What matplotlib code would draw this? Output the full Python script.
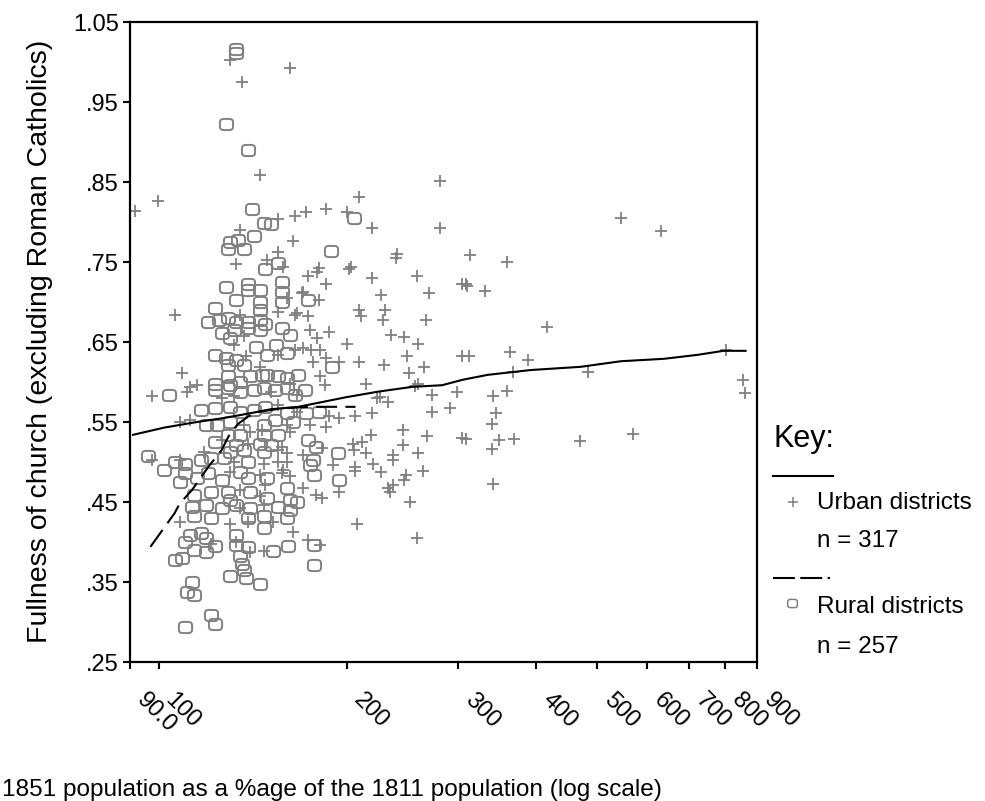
## fullness of church vs population growth 1811-1851, urban and rural districts
## (log scale on x)

import numpy as np
import matplotlib
matplotlib.use("Agg")
from matplotlib import pyplot as plt
from matplotlib.path import Path
from matplotlib.lines import Line2D
from matplotlib.ticker import NullLocator
from matplotlib.transforms import ScaledTranslation

plt.rcParams['font.family'] = ['Liberation Sans', 'DejaVu Sans']

## urban districts, 1851 pop as % of 1811 pop and fullness of church
urban_x = [130, 162, 136, 145, 99.7, 91.6, 155, 165, 172, 185,
           209, 200, 219, 281, 281, 135, 164, 155, 240, 149,
           158, 203, 180, 133, 169, 160, 155, 165, 106, 135,
           137, 132, 138, 165, 155, 145, 109, 115, 112, 162,
           97.7, 111, 126, 132, 155, 166, 108, 112, 137, 160,
           140, 162, 126, 139, 157, 118, 155, 160, 97.7, 132,
           147, 155, 160, 130, 145, 157, 162, 135, 145, 147,
           108, 152, 121, 133, 140, 147, 164, 173, 181, 239,
           179, 173, 185, 201, 219, 258, 305, 170, 180, 226,
           270, 209, 210, 230, 228, 267, 166, 173, 174, 187,
           179, 200, 235, 246, 259, 170, 175, 181, 249, 305,
           176, 185, 194, 209, 229, 265, 251, 181, 184, 214,
           259, 273, 299, 223, 273, 291, 206, 219, 187, 194,
           174, 185, 245, 268, 218, 305, 204, 211, 245, 182,
           205, 214, 236, 259, 170, 236, 220, 190, 206, 226,
           248, 264, 206, 246, 236, 232, 194, 170, 178, 182,
           252, 207, 258, 546, 632, 314, 360, 309, 310, 332,
           416, 312, 363, 388, 367, 484, 802, 855, 860, 341,
           360, 345, 340, 309, 349, 369, 340, 470, 570, 341,
           225, 232, 234, 256, 130, 139, 146, 151, 158, 166,
           148, 135, 108]
urban_y = [1.003, 0.993, 0.975, 0.859, 0.826, 0.814, 0.804, 0.808, 0.812, 0.816,
           0.831, 0.812, 0.793, 0.851, 0.793, 0.790, 0.776, 0.763, 0.760, 0.753,
           0.744, 0.744, 0.742, 0.748, 0.711, 0.705, 0.688, 0.684, 0.684, 0.684,
           0.657, 0.646, 0.632, 0.640, 0.634, 0.619, 0.611, 0.596, 0.594, 0.598,
           0.582, 0.588, 0.580, 0.582, 0.571, 0.563, 0.550, 0.552, 0.546, 0.546,
           0.538, 0.538, 0.527, 0.523, 0.519, 0.513, 0.515, 0.511, 0.503, 0.500,
           0.498, 0.500, 0.500, 0.488, 0.484, 0.486, 0.482, 0.465, 0.457, 0.446,
           0.425, 0.425, 0.398, 0.400, 0.388, 0.389, 0.413, 0.403, 0.396, 0.755,
           0.738, 0.732, 0.723, 0.741, 0.730, 0.733, 0.723, 0.713, 0.703, 0.709,
           0.711, 0.690, 0.682, 0.690, 0.677, 0.677, 0.686, 0.682, 0.665, 0.663,
           0.655, 0.648, 0.659, 0.656, 0.648, 0.642, 0.640, 0.640, 0.632, 0.632,
           0.625, 0.630, 0.625, 0.625, 0.621, 0.619, 0.611, 0.607, 0.596, 0.598,
           0.598, 0.584, 0.588, 0.580, 0.563, 0.568, 0.557, 0.561, 0.557, 0.555,
           0.546, 0.544, 0.540, 0.532, 0.534, 0.530, 0.523, 0.525, 0.521, 0.517,
           0.515, 0.511, 0.509, 0.511, 0.509, 0.503, 0.498, 0.496, 0.494, 0.487,
           0.484, 0.489, 0.489, 0.478, 0.471, 0.467, 0.463, 0.467, 0.459, 0.455,
           0.450, 0.423, 0.405, 0.805, 0.789, 0.759, 0.750, 0.723, 0.720, 0.714,
           0.669, 0.632, 0.638, 0.627, 0.613, 0.612, 0.640, 0.603, 0.586, 0.583,
           0.589, 0.561, 0.548, 0.529, 0.527, 0.529, 0.516, 0.526, 0.535, 0.472,
           0.581, 0.575, 0.463, 0.595, 0.423, 0.425, 0.540, 0.587, 0.490, 0.584,
           0.471, 0.442, 0.503]

## rural districts
rural_x = [133, 133, 128, 139, 141, 147, 151, 205, 142, 134,
           130, 129, 137, 188, 155, 148, 157, 157, 128, 139,
           139, 145, 133, 145, 157, 145, 123, 120, 125, 129,
           133, 139, 145, 148, 157, 126, 132, 139, 145, 162,
           130, 154, 143, 123, 128, 133, 149, 160, 129, 137,
           146, 149, 155, 160, 123, 129, 135, 140, 130, 104,
           123, 129, 135, 142, 147, 153, 160, 165, 117, 123,
           130, 135, 142, 148, 160, 119, 124, 130, 147, 153,
           164, 129, 135, 147, 155, 123, 133, 145, 151, 130,
           137, 147, 96.1, 102, 106, 110, 117, 121, 127, 139,
           108, 110, 115, 120, 126, 135, 139, 149, 114, 121,
           129, 130, 140, 149, 160, 162, 113, 119, 126, 133,
           140, 155, 162, 114, 121, 139, 147, 160, 147, 112,
           117, 119, 123, 114, 119, 110, 106, 109, 133, 133,
           139, 152, 161, 135, 136, 137, 130, 138, 145, 113,
           111, 114, 121, 123, 110, 177, 194, 193, 171, 172,
           180, 173, 178, 176, 174, 177, 166, 167, 189, 173,
           177]
rural_y = [1.016, 1.011, 0.922, 0.890, 0.816, 0.799, 0.798, 0.805, 0.783, 0.778,
           0.775, 0.766, 0.766, 0.764, 0.749, 0.741, 0.725, 0.713, 0.719, 0.723,
           0.715, 0.715, 0.703, 0.700, 0.700, 0.690, 0.692, 0.675, 0.678, 0.680,
           0.675, 0.675, 0.678, 0.673, 0.667, 0.661, 0.665, 0.667, 0.665, 0.659,
           0.655, 0.646, 0.644, 0.634, 0.630, 0.628, 0.634, 0.636, 0.621, 0.621,
           0.609, 0.609, 0.607, 0.605, 0.598, 0.607, 0.600, 0.607, 0.596, 0.584,
           0.590, 0.592, 0.588, 0.590, 0.592, 0.590, 0.592, 0.584, 0.565, 0.567,
           0.569, 0.563, 0.565, 0.569, 0.561, 0.546, 0.546, 0.550, 0.546, 0.552,
           0.550, 0.534, 0.534, 0.534, 0.534, 0.525, 0.521, 0.523, 0.521, 0.513,
           0.515, 0.513, 0.507, 0.490, 0.500, 0.498, 0.503, 0.505, 0.505, 0.500,
           0.475, 0.486, 0.480, 0.486, 0.478, 0.488, 0.480, 0.480, 0.459, 0.463,
           0.463, 0.453, 0.463, 0.455, 0.467, 0.453, 0.444, 0.446, 0.442, 0.446,
           0.442, 0.444, 0.440, 0.432, 0.430, 0.430, 0.432, 0.430, 0.417, 0.409,
           0.411, 0.405, 0.395, 0.390, 0.388, 0.400, 0.378, 0.380, 0.409, 0.396,
           0.394, 0.389, 0.395, 0.382, 0.373, 0.365, 0.357, 0.355, 0.348, 0.350,
           0.338, 0.334, 0.309, 0.298, 0.294, 0.371, 0.478, 0.511, 0.590, 0.561,
           0.563, 0.528, 0.519, 0.503, 0.496, 0.484, 0.450, 0.609, 0.619, 0.703,
           0.396]

## smoothed fits
urban_fit_x = [91, 102, 115, 127, 140, 151, 167, 199, 224, 254,
               283, 306, 335, 392, 471, 546, 639, 724, 796, 863]
urban_fit_y = [0.534, 0.543, 0.550, 0.555, 0.561, 0.566, 0.569, 0.581, 0.588, 0.594,
               0.596, 0.603, 0.609, 0.615, 0.619, 0.626, 0.629, 0.634, 0.639, 0.639]
rural_fit_x = [97, 106, 108, 113, 120, 126, 130, 134, 139, 145, 157, 173, 206]
rural_fit_y = [0.394, 0.436, 0.448, 0.465, 0.494, 0.515, 0.536, 0.548, 0.557,
               0.563, 0.567, 0.569, 0.569]

xticks = [90, 100, 200, 300, 400, 500, 600, 700, 800, 900]
xticklabels = ["90.0", "100", "200", "300", "400", "500", "600", "700", "800", "900"]
yticks = [0.25, 0.35, 0.45, 0.55, 0.65, 0.75, 0.85, 0.95, 1.05]
yticklabels = [".25", ".35", ".45", ".55", ".65", ".75", ".85", ".95", "1.05"]

grey = '#808080'

## rounded square marker for the rural points
t = np.linspace(0, 2 * np.pi, 80)
c, s = np.cos(t), np.sin(t)
verts = np.column_stack([np.sign(c) * np.abs(c) ** 0.5,
                         0.85 * np.sign(s) * np.abs(s) ** 0.5])
rsq = Path(verts, closed=True)

fig = plt.figure(figsize=(9.85, 8.01), dpi=100)
ax = fig.add_axes([0.132, 0.1735, 0.6365, 0.799])

ax.plot(rural_x, rural_y, linestyle='none', marker=rsq, ms=9.5,
        mfc='none', mec=grey, mew=1.4)
ax.plot(urban_x, urban_y, linestyle='none', marker='+', ms=9,
        mec=grey, mew=1.3)
ax.plot(urban_fit_x, urban_fit_y, color='black', lw=1.5)
ax.plot(rural_fit_x, rural_fit_y, color='black', lw=1.5, linestyle=(0, (10, 4)))

ax.set_xscale('log')
ax.set_xlim(90, 900)
ax.set_ylim(0.25, 1.05)
ax.xaxis.set_minor_locator(NullLocator())
ax.set_xticks(xticks)
ax.set_xticklabels(xticklabels)
ax.set_yticks(yticks)
ax.set_yticklabels(yticklabels)
ax.tick_params(direction='out', length=5, width=1.5, labelsize=17, colors='black')
ax.tick_params(axis='y', pad=3)
ax.tick_params(axis='x', pad=17)
## nudge the slanted labels a little right and down
shift = ScaledTranslation(0.10, -0.04, fig.dpi_scale_trans)
for lab in ax.get_xticklabels():
    lab.set_rotation(-45)
    lab.set_ha('left')
    lab.set_va('center')
    lab.set_rotation_mode('anchor')
    lab.set_transform(lab.get_transform() + shift)
for sp in ax.spines.values():
    sp.set_linewidth(1.6)

fig.text(0.041, 0.574, "Fullness of church (excluding Roman Catholics)",
         rotation=90, ha='center', va='center', fontsize=20.5)
fig.text(0.002, 0.014, "1851 population as a %age of the 1811 population (log scale)",
         ha='left', va='center', fontsize=17.6)

## key
fig.text(0.785, 0.452, "Key:", ha='left', va='center', fontsize=22)
fig.add_artist(Line2D([0.785, 0.846], [0.406, 0.406], transform=fig.transFigure,
                      color='black', lw=1.5))
fig.add_artist(Line2D([0.805], [0.373], transform=fig.transFigure, marker='+',
                      ms=7.5, mec=grey, mew=1.1, linestyle='none'))
fig.text(0.829, 0.372, "Urban districts", ha='left', va='center', fontsize=17.5)
fig.text(0.829, 0.325, "n = 317", ha='left', va='center', fontsize=17.5)
fig.add_artist(Line2D([0.785, 0.843], [0.278, 0.278], transform=fig.transFigure,
                      color='black', lw=1.5, linestyle=(0, (10.5, 2.6))))
fig.add_artist(Line2D([0.804], [0.247], transform=fig.transFigure, marker=rsq,
                      ms=7, mfc='none', mec=grey, mew=1.1, linestyle='none'))
fig.text(0.829, 0.242, "Rural districts", ha='left', va='center', fontsize=17.5)
fig.text(0.829, 0.192, "n = 257", ha='left', va='center', fontsize=17.5)

fig.savefig("out.png", dpi=100)
